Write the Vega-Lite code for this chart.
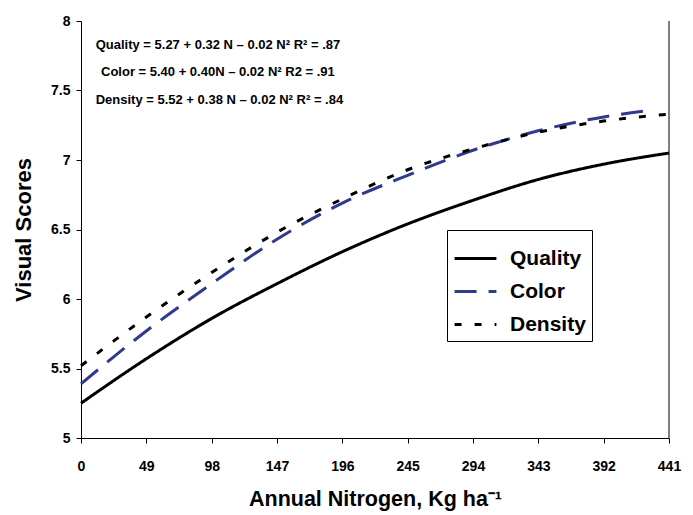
{
  "$schema": "https://vega.github.io/schema/vega-lite/v6.json",
  "width": 588,
  "height": 417,
  "autosize": {"type": "none"},
  "padding": {"left": 81, "top": 21, "right": 24, "bottom": 77},
  "background": "white",
  "config": {
    "view": {"stroke": null},
    "font": "Liberation Sans"
  },
  "datasets": {
    "curves": [
      {"N": 0, "score": 5.25, "series": "Quality"},
      {"N": 49, "score": 5.57, "series": "Quality"},
      {"N": 98, "score": 5.86, "series": "Quality"},
      {"N": 147, "score": 6.11, "series": "Quality"},
      {"N": 196, "score": 6.34, "series": "Quality"},
      {"N": 245, "score": 6.54, "series": "Quality"},
      {"N": 294, "score": 6.71, "series": "Quality"},
      {"N": 343, "score": 6.86, "series": "Quality"},
      {"N": 392, "score": 6.97, "series": "Quality"},
      {"N": 441, "score": 7.05, "series": "Quality"},
      {"N": 0, "score": 5.39, "series": "Color"},
      {"N": 49, "score": 5.77, "series": "Color"},
      {"N": 98, "score": 6.11, "series": "Color"},
      {"N": 147, "score": 6.43, "series": "Color"},
      {"N": 196, "score": 6.69, "series": "Color"},
      {"N": 245, "score": 6.89, "series": "Color"},
      {"N": 294, "score": 7.07, "series": "Color"},
      {"N": 343, "score": 7.21, "series": "Color"},
      {"N": 392, "score": 7.31, "series": "Color"},
      {"N": 430, "score": 7.36, "series": "Color"},
      {"N": 0, "score": 5.52, "series": "Density"},
      {"N": 49, "score": 5.87, "series": "Density"},
      {"N": 98, "score": 6.19, "series": "Density"},
      {"N": 147, "score": 6.48, "series": "Density"},
      {"N": 196, "score": 6.72, "series": "Density"},
      {"N": 245, "score": 6.93, "series": "Density"},
      {"N": 294, "score": 7.08, "series": "Density"},
      {"N": 343, "score": 7.2, "series": "Density"},
      {"N": 392, "score": 7.28, "series": "Density"},
      {"N": 441, "score": 7.33, "series": "Density"}
    ],
    "notes": [
      {"N": 11, "score": 7.83, "label": "Quality = 5.27 + 0.32 N – 0.02 N² R² = .87"},
      {"N": 15, "score": 7.63, "label": "Color = 5.40 + 0.40N – 0.02 N² R2 = .91"},
      {"N": 11, "score": 7.43, "label": "Density = 5.52 + 0.38 N – 0.02 N² R² = .84"}
    ]
  },
  "layer": [
    {
      "data": {"name": "curves"},
      "mark": {"type": "line", "interpolate": "monotone", "strokeWidth": 3},
      "encoding": {
        "x": {
          "field": "N", "type": "quantitative",
          "scale": {"domain": [0, 441], "nice": false},
          "axis": {
            "values": [0, 49, 98, 147, 196, 245, 294, 343, 392, 441],
            "title": "Annual Nitrogen, Kg ha⁻¹",
            "titleFont": "Liberation Sans", "titleFontSize": 21.5, "titleFontWeight": "bold",
            "titleColor": "black", "titlePadding": 15,
            "labelFont": "Liberation Sans", "labelFontSize": 14, "labelFontWeight": "bold",
            "labelColor": "black", "labelPadding": 16,
            "domainColor": "black", "tickColor": "black", "tickSize": 5,
            "grid": false, "labelFlush": false
          }
        },
        "y": {
          "field": "score", "type": "quantitative",
          "scale": {"domain": [5, 8], "nice": false, "zero": false},
          "axis": {
            "values": [5, 5.5, 6, 6.5, 7, 7.5, 8],
            "format": "~g",
            "title": "Visual Scores",
            "titleFont": "Liberation Sans", "titleFontSize": 22, "titleFontWeight": "bold",
            "titleColor": "black", "titlePadding": 15,
            "labelFont": "Liberation Sans", "labelFontSize": 14, "labelFontWeight": "bold",
            "labelColor": "black", "labelPadding": 6,
            "domainColor": "black", "tickColor": "black", "tickSize": 5,
            "grid": false
          }
        },
        "color": {
          "field": "series", "type": "nominal",
          "scale": {"domain": ["Quality", "Color", "Density"], "range": ["#000000", "#2E3A8C", "#000000"]},
          "legend": {
            "title": null, "orient": "none", "legendX": 366, "legendY": 209,
            "symbolType": "stroke", "symbolSize": 1750, "symbolStrokeWidth": 3,
            "labelFont": "Liberation Sans", "labelFontSize": 21, "labelFontWeight": "bold",
            "labelColor": "black", "labelOffset": 12,
            "rowPadding": 0, "padding": 6,
            "strokeColor": "black", "fillColor": "white", "cornerRadius": 0
          }
        },
        "strokeDash": {
          "field": "series", "type": "nominal",
          "scale": {"domain": ["Quality", "Color", "Density"], "range": [[1, 0], [22, 12], [7, 13]]},
          "legend": {
            "title": null, "orient": "none", "legendX": 366, "legendY": 209,
            "symbolType": "stroke", "symbolSize": 1750, "symbolStrokeWidth": 3,
            "labelFont": "Liberation Sans", "labelFontSize": 21, "labelFontWeight": "bold",
            "labelColor": "black", "labelOffset": 12,
            "rowPadding": 0, "padding": 6,
            "strokeColor": "black", "fillColor": "white", "cornerRadius": 0
          }
        }
      }
    },
    {
      "data": {"values": [{"N": 441}]},
      "mark": {"type": "rule", "color": "black", "strokeWidth": 1},
      "encoding": {"x": {"field": "N", "type": "quantitative"}}
    },
    {
      "data": {"name": "notes"},
      "mark": {"type": "text", "align": "left", "baseline": "middle", "font": "Liberation Sans", "fontSize": 13, "fontWeight": "bold", "color": "black"},
      "encoding": {
        "x": {"field": "N", "type": "quantitative"},
        "y": {"field": "score", "type": "quantitative"},
        "text": {"field": "label"}
      }
    }
  ]
}
